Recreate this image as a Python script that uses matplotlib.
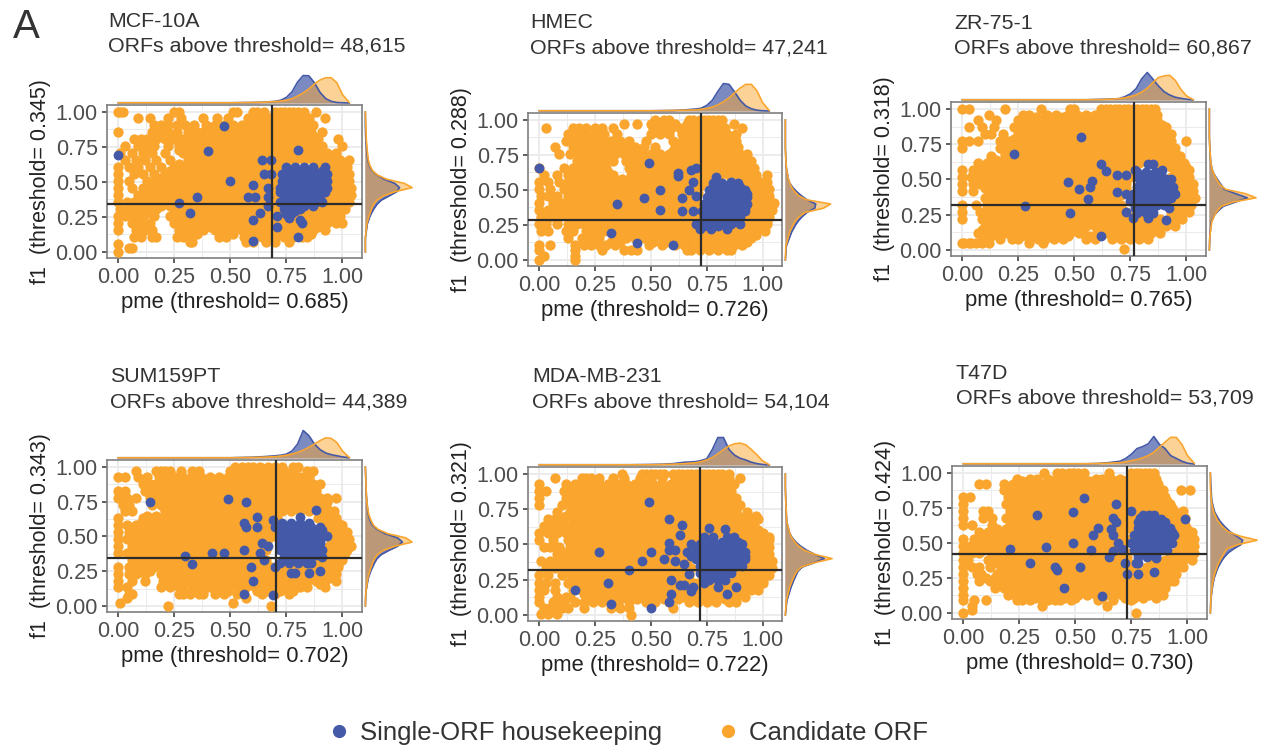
import matplotlib
matplotlib.use("Agg")
import matplotlib.pyplot as plt
from matplotlib.lines import Line2D

plt.rcParams['font.family'] = ['Liberation Sans', 'DejaVu Sans']

W, H = 1265, 750
ORANGE, BLUE = '#FAA62E', '#4459A8'

NAMES = ['MCF-10A', 'HMEC', 'ZR-75-1', 'SUM159PT', 'MDA-MB-231', 'T47D']
ORF_COUNTS = ['48,615', '47,241', '60,867', '44,389', '54,104', '53,709']
PME_THR = [0.685, 0.726, 0.765, 0.702, 0.722, 0.730]
F1_THR = [0.345, 0.288, 0.318, 0.343, 0.321, 0.424]
TICKS = [0, 0.25, 0.5, 0.75, 1.0]
TICK_LABELS = ['0.00', '0.25', '0.50', '0.75', '1.00']
LEGEND_LABELS = ['Single-ORF housekeeping', 'Candidate ORF']

# Candidate ORF points in percent, as (f1, [pme, ...]) rows
CAND_1 = [(100,[0,1,2,25,27,51,53,60,62,65,70,72,74,76,78,80,83,88]),
(96,[9,14,22,28,38,44,49,58,61,64,67,70,73,76,79,82,85,92]),
(91,[16,19,22,26,30,34,39,43,47,51,55,59,63,67,71,75,79,83,87]),
(86,[0,15,18,22,26,31,35,38,42,46,50,54,58,62,66,70,74,78,82,86,91]),
(81,[7,10,13,17,21,25,29,33,37,41,45,49,53,57,61,65,69,73,77,81,85,89,98]),
(76,[3,9,13,16,22,27,31,35,39,43,47,51,55,59,63,67,71,75,79,83,87,91,100]),
(71,[1,6,11,15,21,29,33,37,41,45,49,53,57,61,65,69,73,77,81,85,89,93,97]),
(66,[3,8,12,17,23,31,35,39,43,47,51,55,59,63,67,71,75,79,83,87,91,95,99,103]),
(61,[0,5,9,14,19,25,29,33,37,41,45,49,53,57,61,65,69,73,90,94,98,102]),
(56,[0,7,11,16,21,27,31,35,39,43,47,51,55,59,63,67,71,95,99,103]),
(51,[0,5,13,17,21,25,29,33,37,41,45,49,53,57,61,65,69,95,99,103]),
(46,[0,6,11,15,19,23,27,31,35,39,43,47,51,55,59,63,67,71,95,99,104]),
(41,[0,9,13,17,21,25,29,33,37,41,45,49,53,57,61,65,69,93,97,101,104]),
(36,[0,4,7,11,15,19,23,27,31,35,39,43,47,51,55,59,63,67,71,92,96,100,103]),
(31,[1,5,9,13,17,25,29,33,37,41,45,49,53,57,61,65,69,85,89,93,97,101]),
(26,[0,3,7,11,16,23,27,31,35,39,43,47,51,55,59,63,67,71,79,83,87,91,95,99]),
(21,[0,6,10,14,25,29,33,37,41,45,49,53,57,61,65,69,73,77,81,85,89,93,97,100]),
(16,[0,8,12,15,27,31,34,38,43,47,51,55,59,63,67,71,75,79,83,87,92]),
(11,[7,10,15,17,26,29,31,33,45,48,56,59,64,66,70,74,78,82,84]),
(7,[32,33,57,60,66,70,76]),(6,[0]),(3,[5,6]),(0,[0])]

CAND_2 = [(100,[52,56,58,67,69,72,74,76,78,80,82]),
(97,[38,44,50,53,57,61,66,69,72,75,78,81,87]),
(94,[3,15,18,21,25,28,33,51,55,59,63,67,71,75,79,83,91]),
(90,[13,17,21,25,29,35,50,54,58,64,68,72,76,80,84,88]),
(85,[12,16,20,24,28,32,36,40,48,60,64,68,72,76,80,84,88]),
(81,[7,15,19,23,27,31,35,39,43,47,52,61,65,69,73,77,81,85,89]),
(76,[9,14,18,22,26,30,34,38,42,46,50,54,58,62,66,70,74,78,82,86,90,93]),
(71,[17,21,25,29,33,39,43,47,51,55,59,63,67,71,75,79,83,87,91,95]),
(66,[0,11,15,19,23,27,30,40,44,48,52,56,60,64,68,72,76,80,84,88,92,96]),
(61,[2,8,13,17,21,25,29,33,41,45,49,53,57,61,65,69,73,77,81,85,89,93,97,102]),
(56,[0,4,9,13,19,23,27,31,35,39,43,47,51,55,59,63,67,71,75,91,95,99,102]),
(51,[0,5,11,15,18,22,26,30,34,38,42,46,50,54,58,62,66,70,93,97,101,103]),
(46,[1,4,8,13,17,21,25,29,33,37,41,45,49,53,57,61,65,69,95,99,103]),
(41,[0,6,10,14,18,22,26,30,34,38,42,46,50,54,58,62,66,70,95,99,103,105]),
(36,[0,4,8,12,16,20,24,28,32,36,40,44,48,52,56,60,64,68,93,97,101,104]),
(31,[1,5,9,14,18,22,26,30,34,38,42,46,50,54,58,62,66,70,95,99,103]),
(26,[0,3,8,13,17,20,28,32,37,41,45,49,53,57,61,65,69,92,96,100,102]),
(21,[1,4,12,15,21,25,29,33,37,41,45,49,53,57,61,65,69,73,77,81,85,89,93,97,101]),
(16,[13,19,23,27,35,39,43,47,51,55,59,63,67,71,75,79,83,87,91,95]),
(11,[0,5,16,20,23,27,30,34,49,55,61,65,71,75,79,83,87,91]),
(7,[0,16,28,38,41,44,66,68,72,76,80,84,86]),(3,[2,16]),(0,[0,16])]

CAND_3 = [(100,[0,3,19,35,48,50,62,64,66,68,70,72,74,76,78,80,82,84,86]),
(96,[12,27,30,38,42,47,51,55,59,63,67,71,75,79,83,87]),
(92,[7,15,25,29,33,37,41,45,49,53,57,61,65,69,73,77,81,85,87]),
(87,[3,9,14,23,27,31,35,39,43,47,51,55,59,63,67,71,75,79,83,87,91]),
(82,[10,13,18,25,29,33,37,41,45,49,53,57,61,65,69,73,77,81,85,89,93]),
(77,[0,3,7,17,21,27,31,35,39,43,47,51,55,59,63,67,71,75,79,83,87,91,93,100]),
(72,[0,17,21,25,29,33,37,41,45,49,53,57,61,65,69,73,77,81,85,89,93,95]),
(67,[13,19,23,27,31,35,39,43,47,51,55,59,63,67,71,75,79,83,87,91,95,97]),
(62,[7,11,15,19,23,27,31,35,39,43,47,51,55,59,63,67,71,75,79,83,87,91,95,99]),
(57,[0,5,9,13,17,21,25,29,33,37,41,45,49,53,57,61,65,69,73,77,95,99,101]),
(52,[0,4,9,11,15,19,23,27,31,35,39,43,47,51,55,59,63,67,71,75,93,97,101]),
(47,[0,5,8,13,17,21,25,29,33,37,41,45,49,53,57,61,65,69,73,95,99,103]),
(42,[0,5,12,15,19,23,27,31,35,39,43,47,51,55,59,63,67,71,95,99,103]),
(37,[10,13,17,21,25,29,33,37,41,45,49,53,57,61,65,69,96,100,104]),
(32,[0,6,11,15,19,23,27,31,35,39,43,47,51,55,59,63,67,71,95,99,102]),
(27,[0,8,10,13,17,21,25,29,33,37,41,45,49,53,57,61,65,69,73,93,97,101]),
(22,[0,9,12,16,20,24,28,32,36,40,44,48,52,56,60,64,68,72,76,80,84,88,92,96,98]),
(17,[10,14,18,22,27,31,35,39,43,47,51,55,59,63,67,71,75,79,83,87,91,95]),
(12,[7,11,15,20,24,28,32,36,40,44,48,52,60,64,68,72,76,80,84,88]),
(8,[17,22,25,30,34,37,41,45,55,59,67,71,75,79,83]),
(5,[0,1,3,4,6,9,12,30,36]),(1,[72])]

CAND_4 = [(100,[52,55,58,60,63,67,70,73,78,80]),
(97,[8,17,19,21,23,28,33,36,50,54,58,62,66,70,74,78,84,87]),
(93,[0,3,9,13,18,22,25,29,33,37,41,45,49,53,57,61,65,69,73,77,81,85]),
(88,[11,14,17,20,24,27,31,35,39,43,47,51,55,59,63,67,71,75,79,83,87,90]),
(83,[0,3,12,16,20,24,28,32,36,40,44,48,52,56,60,64,68,72,76,80,84,88]),
(78,[0,4,8,14,18,22,26,30,34,38,42,46,50,54,58,62,66,70,74,78,82,86,90,93,97]),
(73,[2,5,15,19,23,27,31,35,39,43,47,51,55,59,63,67,71,75,79,83,87,91]),
(68,[3,6,21,25,29,33,37,41,45,49,53,57,61,65,69,73,77,81,85,89,93,96]),
(63,[0,11,15,19,23,27,31,35,39,43,47,51,55,59,63,67,71,89,93,97]),
(58,[0,4,8,12,16,20,24,28,32,36,40,44,48,52,56,60,64,68,92,96,100]),
(53,[0,5,9,13,17,21,25,29,33,37,41,45,49,53,57,61,65,69,94,98,102]),
(48,[0,4,7,11,15,19,23,27,31,35,39,43,47,51,55,59,63,67,95,99,103]),
(43,[0,6,10,14,18,22,26,30,34,38,42,46,50,54,58,62,66,94,98,102,104]),
(38,[0,4,8,12,16,20,24,28,32,36,40,44,48,52,56,60,64,93,97,101]),
(33,[6,10,14,18,22,26,30,34,38,42,46,50,54,58,62,66,90,94,98,100]),
(28,[0,5,8,12,16,20,24,28,32,36,40,44,48,52,56,60,64,68,72,76,80,84,88,92,96,98]),
(23,[0,5,8,12,19,23,27,31,35,39,43,47,51,55,59,63,67,71,75,79,83,87,91,95,97]),
(18,[0,6,12,20,24,28,32,36,40,44,48,52,56,60,64,68,72,76,80,84,88,92,97]),
(14,[0,4,19,23,27,33,37,41,45,49,53,57,61,65,69,73,77,81,84,92]),
(9,[5,6,27,29,32,36,38,43,47,53,56,64,70,76]),(6,[4,57]),(2,[1,51]),(0,[22,68])]

CAND_5 = [(100,[37,46,48,50,52,54,56,60,62,64,66,68,70,72,74,76,78,80,82,85]),
(97,[7,19,21,23,27,33,38,45,50,55,61,65,69,73,77,81,85,90]),
(93,[0,12,16,19,23,27,31,35,39,43,47,51,55,59,63,67,71,75,79,83,87]),
(88,[0,3,11,15,19,23,27,31,35,39,43,47,51,55,59,63,67,71,75,79,83,86]),
(83,[0,12,16,20,24,28,32,36,40,44,48,52,56,60,64,68,72,76,80,84,88]),
(78,[0,10,14,18,22,26,30,34,38,42,46,50,54,58,62,66,70,74,78,82,86,90]),
(73,[8,14,18,22,26,30,34,38,42,46,50,54,58,62,66,70,74,78,82,86,88,93]),
(68,[4,7,10,15,19,23,27,31,35,39,43,47,51,55,59,63,67,71,75,79,83,87,91,95,98]),
(63,[2,5,9,13,17,21,25,29,33,37,41,45,49,53,57,61,65,69,73,77,81,85,89,93,96]),
(58,[0,4,8,12,16,20,24,28,32,36,40,44,48,52,56,60,64,68,72,76,80,84,88,92,96,100]),
(53,[0,6,13,17,21,25,29,33,37,41,45,49,53,57,61,65,69,90,94,98,101,103]),
(48,[2,5,9,14,18,22,26,30,34,38,42,46,50,54,58,62,66,92,96,100,103]),
(43,[8,12,16,20,24,28,32,36,40,44,48,52,56,60,64,92,96,100,103]),
(38,[1,5,9,14,18,22,26,30,34,38,42,46,50,54,58,62,66,94,98,102,104]),
(33,[3,7,12,16,20,24,28,32,36,40,44,48,52,56,60,64,68,92,96,100,104]),
(28,[0,4,10,15,19,23,27,31,35,39,43,47,51,55,59,63,67,88,92,96,100,103]),
(23,[0,3,7,13,17,21,25,29,33,37,41,45,49,53,57,61,65,69,71,86,90,94,98,100]),
(18,[0,2,7,15,19,23,27,31,35,39,43,47,51,55,59,63,67,71,75,79,83,87,91,95,98]),
(13,[0,8,12,14,22,26,30,34,38,42,46,50,54,60,64,68,72,76,80,84,88,92]),
(9,[0,6,9,11,16,20,24,28,32,35,40,48,52,58,67,71,75,79,85,88]),
(5,[2,5,8,10,13,20,32,36,40,60]),(1,[1,4,8]),(0,[41])]

CAND_6 = [(100,[36,42,44,47,49,51,54,65,75,77,79,81,83,85]),
(96,[24,30,33,38,42,46,50,54,59,62,66,70,74,78,82,86]),
(92,[7,10,18,22,25,28,31,35,39,43,47,51,55,59,63,67,71,75,79,83,87]),
(88,[18,21,25,29,33,37,41,45,49,53,57,61,65,69,73,77,81,85,89,97,101]),
(83,[0,3,20,23,27,31,35,39,43,47,51,55,59,63,67,71,75,79,83,87,90]),
(78,[0,19,25,29,33,37,41,45,49,53,57,61,65,69,73,77,81,85,89,92]),
(73,[0,9,11,21,25,29,35,39,43,47,51,55,59,63,67,71,75,79,83,87,91,94,98]),
(68,[0,9,13,19,23,27,31,37,41,45,49,53,57,61,65,69,73,77,92,96,99]),
(63,[0,4,13,21,25,29,33,37,41,45,49,53,57,61,65,69,73,95,99]),
(58,[7,11,15,19,23,27,31,35,39,43,47,51,55,59,63,67,71,95,99,102]),
(53,[0,5,9,13,17,21,25,29,33,37,41,45,49,53,57,61,65,69,73,96,100,103]),
(48,[0,3,7,11,15,19,23,27,31,35,39,43,47,51,55,59,63,67,71,96,100,103]),
(43,[0,4,7,13,17,21,25,29,33,37,41,45,49,53,57,61,65,69,73,94,98,102,103]),
(38,[0,2,11,15,19,23,27,31,35,39,43,47,51,55,59,63,67,71,90,94,98,102]),
(33,[0,4,7,12,17,21,25,29,33,37,41,45,49,53,57,61,65,69,73,77,82,86,90,94,98]),
(28,[0,6,8,15,19,23,27,31,35,39,43,47,51,55,59,63,67,71,75,79,83,87,91,95]),
(23,[0,7,12,16,20,24,28,32,36,40,44,48,52,56,60,64,68,72,76,80,84,88,92,94]),
(18,[0,14,18,22,26,30,34,38,42,46,50,54,58,62,66,70,74,78,82,86,90]),
(13,[0,20,23,27,31,35,39,43,47,51,55,59,63,67,71,75,79,83,87,89]),
(9,[0,5,10,24,26,30,35,38,41,43,48,60,67,75]),(5,[4,35,64]),(2,[4]),(0,[0,77])]

# Further candidate points inside the solid part of each cloud
CORE_1 = [(93,[61,65,69,73,77,81]),(88,[59,63,67,71,75,79,83]),
(83,[43,47,51,55,59,63,67,71,75,79,83,87]),(78,[39,43,47,51,55,59,63,67,71,75,79,83,87]),
(73,[27,31,35,39,43,47,51,55,59,63,67,71,75,79,83,87,91]),
(68,[33,37,41,45,49,53,57,61,65,69,73,77,81,85,89,93,97]),
(63,[27,31,35,39,43,47,51,55,59,63,67,71,75,91,95,99]),
(58,[23,29,33,37,41,45,49,53,57,61,65,69,73,93,97,101]),
(53,[19,23,27,31,35,39,43,47,51,55,59,63,67,71,95,99,102]),
(48,[15,19,23,27,31,35,39,43,47,51,55,59,63,67,71,93,97,101]),
(43,[15,19,23,27,31,35,39,43,47,51,55,59,63,67,71,95,99,102]),
(38,[13,17,21,25,29,33,37,41,45,49,53,57,61,65,69,73,94,98,102]),
(33,[11,15,19,23,27,31,35,39,43,47,51,55,59,63,67,71,90,94,98]),
(28,[13,25,29,33,37,41,45,49,53,57,61,65,69,73,81,85,89,93,97]),
(23,[27,31,35,39,43,47,51,55,59,63,67,71,75,79,83,87,91,95]),
(18,[29,33,37,41,45,49,53,57,61,65,69,73,77,81,85,89]),
(13,[28,31,35,47,51,58,62,66,70,74,78,82,86])]
CORE_2 = [(88,[66,70,74,78,82,86]),(83,[62,66,70,74,78,82,86]),
(78,[16,20,24,28,32,36,40,44,60,64,68,72,76,80,84,88]),
(73,[19,23,27,41,45,49,53,57,61,65,69,73,77,81,85,89,93]),
(68,[17,21,25,42,46,50,54,58,62,66,70,74,78,82,86,90,94]),
(63,[15,19,23,27,31,43,47,51,55,59,63,67,71,75,79,83,87,91,95]),
(58,[15,21,25,29,33,37,41,45,49,53,57,61,65,69,73,77,93,97]),
(53,[17,20,24,28,32,36,40,44,48,52,56,60,64,68,72,95,99]),
(48,[15,19,23,27,31,35,39,43,47,51,55,59,63,67,71,93,97,101]),
(43,[16,20,24,28,32,36,40,44,48,52,56,60,64,68,93,97,101]),
(38,[10,14,18,22,26,30,34,38,42,46,50,54,58,62,66,70,97,101]),
(33,[11,16,20,24,28,32,36,40,44,48,52,56,60,64,68,93,97,101]),
(28,[16,20,24,30,34,39,43,47,51,55,59,63,67,71,94,98,102]),
(23,[23,27,31,35,39,43,47,51,55,59,63,67,71,75,79,83,87,91,95,99]),
(18,[25,37,41,45,49,53,57,61,65,69,73,77,81,85,89,93,97]),
(13,[25,32,36,51,57,63,67,73,77,81,85,89,93])]
CORE_3 = [(94,[29,33,37,41,45,49,53,57,61,65,69,73,77,81,85]),
(89,[25,29,33,37,41,45,49,53,57,61,65,69,73,77,81,85,89]),
(84,[27,31,35,39,43,47,51,55,59,63,67,71,75,79,83,87,91]),
(79,[23,29,33,37,41,45,49,53,57,61,65,69,73,77,81,85,89]),
(74,[19,23,29,33,37,41,45,49,53,57,61,65,69,73,77,81,85,89,93]),
(69,[19,23,27,31,35,39,43,47,51,55,59,63,67,71,75,79,83,87,91,95]),
(64,[15,19,23,27,31,35,39,43,47,51,55,59,63,67,71,75,79,83,87,91,95,97]),
(59,[11,15,19,23,27,31,35,39,43,47,51,55,59,63,67,71,75,93,97,100]),
(54,[7,11,15,19,23,27,31,35,39,43,47,51,55,59,63,67,71,75,95,99]),
(49,[7,11,15,19,23,27,31,35,39,43,47,51,55,59,63,67,71,93,97,101]),
(44,[10,14,17,21,25,29,33,37,41,45,49,53,57,61,65,69,73,97,101]),
(39,[12,15,19,23,27,31,35,39,43,47,51,55,59,63,67,71,94,98,102]),
(34,[13,17,21,25,29,33,37,41,45,49,53,57,61,65,69,97,101]),
(29,[11,15,19,23,27,31,35,39,43,47,51,55,59,63,67,71,95,99]),
(24,[14,18,22,26,30,34,38,42,46,50,54,58,62,66,70,74,94,97]),
(19,[12,16,20,24,29,33,37,41,45,49,53,57,61,65,69,73,77,81,85,89,93]),
(14,[9,13,17,22,26,30,34,38,42,46,50,54,62,66,70,74,78,82,86]),
(10,[9,13,22,26,32,39,43,47,57,69,73,77,81])]
CORE_4 = [(90,[22,26,33,37,41,45,49,53,57,61,65,69,73,77,81,85]),
(85,[14,18,22,26,30,34,38,42,46,50,54,58,62,66,70,74,78,82,86]),
(80,[14,18,22,28,32,36,40,44,48,52,56,60,64,68,72,76,80,84,88]),
(75,[17,21,25,29,33,37,41,45,49,53,57,61,65,69,73,77,81,85,89,93]),
(70,[21,25,29,33,37,41,45,49,53,57,61,65,69,73,77,81,85,89,93]),
(65,[13,17,21,25,29,33,37,41,45,49,53,57,61,65,69,91,95]),
(60,[10,14,18,22,26,30,34,38,42,46,50,54,58,62,66,94,98]),
(55,[7,11,15,19,23,27,31,35,39,43,47,51,55,59,63,67,96,100]),
(50,[6,9,13,17,21,25,29,33,37,41,45,49,53,57,61,65,69,97,101]),
(45,[8,12,16,20,24,28,32,36,40,44,48,52,56,60,64,96,100,102]),
(40,[6,10,14,18,22,26,30,34,38,42,46,50,54,58,62,66,95,99,102]),
(35,[8,12,16,20,24,28,32,36,40,44,48,52,56,60,64,92,96,100]),
(30,[10,14,18,22,26,30,34,38,42,46,50,54,58,62,66,90,94,98]),
(25,[10,14,21,25,29,33,37,41,45,49,53,57,61,65,69,73,77,81,85,89,93,96]),
(20,[22,26,30,34,38,42,46,50,54,58,62,66,70,74,78,82,86,90,94]),
(16,[21,25,29,35,39,43,47,51,55,59,63,67,71,75,79,83,90]),
(11,[29,34,38,45,49,55,62,67,72,78])]
CORE_5 = [(90,[13,17,21,25,29,33,37,41,45,49,53,57,61,65,69,73,77,81,85]),
(85,[14,18,22,26,30,34,38,42,46,50,54,58,62,66,70,74,78,82,86]),
(80,[12,16,20,24,28,32,36,40,44,48,52,56,60,64,68,72,76,80,84,88]),
(75,[16,20,24,28,32,36,40,44,48,52,56,60,64,68,72,76,80,84,88]),
(70,[12,17,21,25,29,33,37,41,45,49,53,57,61,65,69,73,77,81,85,89,93,97]),
(65,[7,15,19,23,27,31,35,39,43,47,51,55,59,63,67,71,75,79,83,87,91,95]),
(60,[6,14,18,22,26,30,34,38,42,46,50,54,58,62,66,70,74,78,82,86,90,94,98]),
(55,[15,19,23,27,31,35,39,43,47,51,55,59,63,67,71,92,96,100,103]),
(50,[16,20,24,28,32,36,40,44,48,52,56,60,64,94,98,102]),
(45,[10,14,18,22,26,30,34,38,42,46,50,54,58,62,94,98,102]),
(40,[12,16,20,24,28,32,36,40,44,48,52,56,60,64,96,100,103]),
(35,[10,14,18,22,26,30,34,38,42,46,50,54,58,62,66,94,98,102]),
(30,[13,17,21,25,29,33,37,41,45,49,53,57,61,65,90,94,98,102]),
(25,[15,19,23,27,31,35,39,43,47,51,55,59,63,67,88,92,96,100]),
(20,[17,21,25,29,33,37,41,45,49,53,57,61,65,69,73,77,81,85,89,93,97]),
(15,[20,24,28,32,36,40,44,48,52,56,62,66,70,74,78,82,86,90]),
(11,[24,28,32,36,44,50,56,62,69,73,77,83])]
CORE_6 = [(94,[26,33,40,44,48,52,56,61,64,68,72,76,80,84]),
(90,[27,30,33,37,41,45,49,53,57,61,65,69,73,77,81,85]),
(85,[25,29,33,37,41,45,49,53,57,61,65,69,73,77,81,85,89]),
(80,[22,27,31,35,39,43,47,51,55,59,63,67,71,75,79,83,87,91]),
(75,[23,27,31,37,41,45,49,53,57,61,65,69,73,77,81,85,89,93]),
(70,[21,25,29,33,39,43,47,51,55,59,63,67,71,75,79,90,94]),
(65,[23,27,31,35,39,43,47,51,55,59,63,67,71,75,94,97]),
(60,[15,19,23,27,31,35,39,43,47,51,55,59,63,67,71,75,97,100]),
(55,[11,15,19,23,27,31,35,39,43,47,51,55,59,63,67,71,97,101]),
(50,[11,15,19,23,27,31,35,39,43,47,51,55,59,63,67,71,98,102]),
(45,[9,15,19,23,27,31,35,39,43,47,51,55,59,63,67,71,96,100]),
(40,[13,17,21,25,29,33,37,41,45,49,53,57,61,65,69,73,92,96,100]),
(35,[13,19,23,27,31,35,39,43,47,51,55,59,63,67,71,75,84,88,92,96]),
(30,[17,21,25,29,33,37,41,45,49,53,57,61,65,69,73,77,81,85,89,93]),
(25,[10,14,18,22,26,30,34,38,42,46,50,54,58,62,66,70,74,78,82,86,90]),
(20,[16,20,24,28,32,36,40,44,48,52,56,60,64,68,72,76,80,84,88]),
(15,[22,25,29,33,37,41,45,49,53,57,61,65,69,73,77,81,85,88]),
(11,[25,28,32,37,40,45,50,62,72,76,80,86])]

# Single-ORF housekeeping points in percent, same row form
HK_1 = [(90,[47]),(73,[80]),(72,[40]),(69,[0]),(66,[64,68]),(61,[75,79,83,87,92]),(58,[75,79,83,87,91]),
(56,[65,68,73,77,81,85,89,93]),(53,[75,79,83,87,91]),(51,[50,73,77,81,85,89,93]),(48,[60,74,78,82,86,90]),
(46,[67,72,76,80,84,88,93]),(43,[72,76,80,84,88,92]),(41,[74,78,82,86,90]),(39,[35,58,61,67]),
(38,[74,78,82,86,90]),(36,[72,76,80,84,88,91]),(35,[27]),(33,[67,75,79,83,87]),(31,[74,77,81]),(29,[76,79]),
(28,[32,63]),(27,[75,77]),(26,[71]),(24,[76]),(23,[60,81]),(21,[82]),(18,[71]),(11,[80]),(8,[60])]
HK_2 = [(69,[49]),(66,[0,70]),(64,[68]),(62,[62]),(60,[62]),(59,[79]),(56,[69,86]),(55,[78,82,86,89]),
(52,[78,82,86,90]),(50,[54,67,76,80,84,88,92]),(47,[77,81,85,89,93]),(46,[70]),(45,[75,79,83,87,91,93]),(44,[47,64]),
(42,[76,80,84,88,92]),(40,[35,74,78,82,86,90,93]),(37,[76,80,84,88,92]),(36,[54]),(35,[64,69,73,76,80,84,88,92]),
(33,[76,80,84,88]),(31,[74,78,82,86,90]),(28,[76,80,84,88]),(26,[70,74,78,82,86,90]),(24,[74,80]),
(22,[72,77,84]),(19,[32]),(12,[44]),(11,[60])]
HK_3 = [(80,[53]),(68,[23]),(61,[62,83,85]),(57,[77,89]),(56,[64]),(55,[78,82,86]),(53,[69,73]),(52,[81,85,89]),
(50,[79,83,87,91,93]),(49,[58]),(48,[47]),(47,[80,84,88,92]),(45,[57,78,82,86,90,94]),(43,[52]),(42,[78,82,86,90,94]),(41,[69]),
(40,[73,76,80,84,88,92,95]),(37,[77,81,85,89,93]),(36,[56]),(35,[75,79,83,87,91]),(32,[79,83,87,90]),(31,[28]),(30,[77,81,85,92]),
(28,[80,84]),(27,[73]),(26,[48,78,82,85]),(23,[76,83]),(21,[91]),(10,[62])]
HK_4 = [(77,[49]),(75,[14,57]),(69,[88]),(64,[62,81]),(62,[69]),(60,[56,73,77,81,85]),(57,[57,62,70,90,74,78,82,86]),
(55,[72,76,80,84,88,91]),(52,[74,78,82,86,90]),(50,[72,76,80,84,88,93]),(47,[74,78,82,86,90]),(45,[64,72,76,80,84,88,90]),(43,[67]),
(42,[74,78,82,86,90]),(40,[56,72,76,80,84,88,91]),(38,[42,47,63]),(37,[76,80,84,88]),(36,[30]),(35,[74,78,82,86,91]),(33,[65,74,78,82,84]),
(31,[72,76,80,84,86]),(30,[33]),(28,[59,70]),(25,[90]),(24,[77,79,85]),(18,[60]),(9,[56]),(8,[69])]
HK_5 = [(80,[49]),(68,[58]),(64,[64]),(62,[76]),(61,[83]),(57,[63]),(55,[74,78,84,87]),(52,[78,82,86,89]),(51,[58]),
(50,[68,72,76,80,84,88,91]),(47,[70,74,78,82,86,90]),(46,[58,61]),(45,[27,50,66,70,74,78,82,86,90,92]),(42,[68,72,76,80,84,88,92]),
(40,[56,70,74,78,82,86,90,92]),(38,[46,61]),(37,[74,78,82,86,90]),(36,[65]),(35,[72,76,80,84,88,91]),(32,[40,74,78,82,86]),
(30,[72,76,80,84,86]),(29,[67]),(27,[74,78,82]),(25,[59,76,80,83]),(23,[31,74]),(21,[63,65]),(20,[69,80,88]),(18,[16]),(17,[68]),
(15,[59,84]),(9,[58]),(8,[32]),(5,[50])]
HK_6 = [(82,[54]),(78,[68]),(73,[75]),(72,[49]),(70,[33,80,83,85]),(68,[67,79]),(67,[99,80,84,88]),(65,[68,78,82,86,90]),(62,[80,84,88]),
(61,[60,78,82,86,90,92]),(60,[66]),(58,[78,82,86,90,93]),(56,[58,67,76,80,84,88,92,94]),(53,[78,82,86,90]),(50,[49,69,75,79,83,87,91,93]),
(47,[37,78,82,86,90]),(46,[21,71]),(45,[57,76,80,84,88,91]),(44,[67]),(42,[78,82,86]),(40,[65,78,82,86]),(39,[86]),(36,[30,72,77,78]),(33,[41,52]),
(31,[42]),(29,[85]),(28,[73,78]),(18,[45]),(12,[62])]

# Marginal densities, as share of the tallest curve of the figure
TOP_X = [0,.1,.2,.3,.4,.5,.55,.6,.65,.7,.725,.75,.775,.8,.825,.85,.875,.9,.925,.95,.975,1.0,1.03]
TOP_HK_1 = [.01,.01,.01,.01,.01,.01,.015,.02,.03,.06,.1,.2,.4,.75,.98,.97,.72,.38,.16,.06,.02,.01,0]
TOP_CA_1 = [.01,.01,.01,.01,.01,.01,.015,.02,.03,.05,.07,.1,.15,.25,.36,.5,.68,.82,.9,.9,.72,.3,.02]
TOP_HK_2 = [.01,.01,.01,.01,.01,.01,.015,.02,.04,.07,.1,.2,.38,.7,.98,.95,.68,.38,.18,.08,.03,.01,0]
TOP_CA_2 = [.01,.01,.01,.01,.01,.01,.015,.02,.03,.04,.06,.09,.14,.22,.33,.47,.65,.82,.95,.95,.72,.3,.02]
TOP_HK_3 = [.01,.01,.01,.01,.01,.01,.01,.02,.03,.05,.12,.22,.4,.75,.98,.75,.5,.3,.18,.1,.06,.03,0]
TOP_CA_3 = [.01,.01,.01,.01,.01,.01,.01,.015,.025,.05,.08,.12,.18,.28,.42,.62,.8,.86,.88,.7,.38,.15,.01]
TOP_HK_4 = [.01,.01,.01,.01,.01,.01,.02,.03,.05,.08,.1,.14,.25,.5,.98,.8,.5,.3,.18,.12,.08,.04,.01]
TOP_CA_4 = [.01,.01,.01,.01,.01,.01,.015,.02,.03,.05,.07,.1,.14,.2,.28,.38,.5,.62,.72,.7,.55,.25,.02]
TOP_HK_5 = [.01,.01,.01,.01,.01,.02,.03,.05,.1,.12,.16,.22,.55,.98,.98,.55,.35,.24,.18,.1,.05,.02,0]
TOP_CA_5 = [.01,.01,.01,.01,.01,.01,.02,.03,.05,.08,.12,.18,.26,.4,.55,.68,.76,.78,.72,.55,.36,.15,.01]
TOP_HK_6 = [.01,.01,.01,.01,.01,.01,.01,.02,.05,.1,.2,.35,.55,.62,.72,.98,.7,.55,.3,.2,.1,.03,0]
TOP_CA_6 = [.01,.01,.01,.01,.01,.01,.01,.02,.03,.05,.08,.12,.16,.22,.3,.42,.6,.78,.95,.95,.7,.3,.03]

SIDE_Y = [0,.1,.2,.25,.28,.31,.34,.37,.40,.43,.46,.49,.52,.55,.58,.62,.66,.72,.8,.9,1]
SIDE_HK_1 = [.01,.01,.05,.10,.14,.19,.25,.34,.50,.66,.72,.62,.40,.25,.15,.09,.06,.04,.02,.01,.01]
SIDE_CA_1 = [.01,.01,.04,.08,.11,.14,.18,.25,.38,.62,.98,.82,.45,.26,.16,.10,.07,.05,.03,.02,.01]
SIDE_HK_2 = [.01,.03,.14,.22,.28,.36,.46,.62,.64,.46,.34,.24,.16,.1,.07,.05,.03,.02,.01,.01,.01]
SIDE_CA_2 = [.01,.02,.10,.17,.22,.3,.42,.8,.95,.45,.28,.2,.14,.1,.07,.05,.03,.02,.01,.01,.01]
SIDE_HK_3 = [.01,.02,.05,.12,.2,.3,.55,.8,.55,.32,.26,.2,.14,.09,.06,.04,.03,.02,.01,.01,.01]
SIDE_CA_3 = [.01,.02,.06,.12,.18,.26,.5,.98,.75,.35,.24,.18,.13,.09,.06,.04,.03,.02,.01,.01,.01]
SIDE_HK_4 = [.01,.02,.07,.12,.16,.2,.25,.34,.5,.68,.78,.68,.42,.26,.16,.1,.07,.05,.03,.02,.01]
SIDE_CA_4 = [.01,.02,.06,.1,.13,.16,.2,.26,.38,.62,.98,.85,.48,.28,.18,.12,.08,.05,.03,.02,.01]
SIDE_HK_5 = [.01,.04,.13,.19,.23,.27,.36,.6,.82,.62,.45,.32,.22,.15,.1,.07,.04,.03,.02,.01,.01]
SIDE_CA_5 = [.01,.03,.1,.16,.2,.25,.34,.6,.98,.62,.4,.28,.2,.14,.1,.07,.04,.03,.02,.01,.01]
SIDE_HK_6 = [.01,.02,.06,.09,.12,.15,.19,.24,.3,.38,.5,.65,.68,.55,.42,.3,.2,.1,.04,.02,.01]
SIDE_CA_6 = [.01,.02,.05,.08,.1,.13,.16,.2,.25,.3,.36,.6,.98,.62,.38,.25,.16,.08,.03,.01,.01]

CANDS = [CAND_1 + CORE_1, CAND_2 + CORE_2, CAND_3 + CORE_3, CAND_4 + CORE_4, CAND_5 + CORE_5, CAND_6 + CORE_6]
HKS = [HK_1, HK_2, HK_3, HK_4, HK_5, HK_6]
TOP_HK = [TOP_HK_1, TOP_HK_2, TOP_HK_3, TOP_HK_4, TOP_HK_5, TOP_HK_6]
TOP_CA = [TOP_CA_1, TOP_CA_2, TOP_CA_3, TOP_CA_4, TOP_CA_5, TOP_CA_6]
SIDE_HK = [SIDE_HK_1, SIDE_HK_2, SIDE_HK_3, SIDE_HK_4, SIDE_HK_5, SIDE_HK_6]
SIDE_CA = [SIDE_CA_1, SIDE_CA_2, SIDE_CA_3, SIDE_CA_4, SIDE_CA_5, SIDE_CA_6]

# Layout in reference pixels: axes left, right, top, bottom; title x and first baseline
BOXES = [(107,362,105,258),(528,782,113,266),(951,1206,102,256),
         (107,362,460,612),(528,782,467,621),(952,1207,466,619)]
TITLES = [(108,27),(530,28),(954,29),(110,382),(532,382),(956,379)]
XLIM, YLIM = (-0.05, 1.087), (-0.043, 1.05)


def unpack(rows):
    xs, ys = [], []
    for y, row in rows:
        for x in row:
            xs.append(x / 100)
            ys.append(y / 100)
    return xs, ys


def px_axes(fig, l, r, t, b):
    return fig.add_axes([l / W, 1 - b / H, (r - l) / W, (b - t) / H])


fig = plt.figure(figsize=(W / 100, H / 100), dpi=100, facecolor='white')
fig.text(13 / W, 1 - 38 / H, 'A', fontsize=29, color='#333333', ha='left', va='baseline')

for i, (l, r, t, b) in enumerate(BOXES):
    ax = px_axes(fig, l, r, t, b)
    ax.set_xlim(XLIM)
    ax.set_ylim(YLIM)
    ax.set_xticks(TICKS, TICK_LABELS)
    ax.set_yticks(TICKS, TICK_LABELS)
    ax.set_xticks([0.125, 0.375, 0.625, 0.875], minor=True)
    ax.set_yticks([0.125, 0.375, 0.625, 0.875], minor=True)
    ax.grid(True, which='major', color='#ebebeb', lw=1.3, zorder=0)
    ax.grid(True, which='minor', color='#ebebeb', lw=0.7, zorder=0)
    ax.set_axisbelow(True)
    ax.tick_params(which='minor', length=0)
    ax.tick_params(which='major', length=3.5, width=1.1, color='#333333',
                   labelcolor='#4d4d4d', labelsize=15.5, pad=3)
    for s in ax.spines.values():
        s.set_color('#7f7f7f')
        s.set_linewidth(1.2)
    ax.scatter(*unpack(CANDS[i]), s=55, color=ORANGE, linewidths=0, zorder=3, clip_on=False)
    ax.scatter(*unpack(HKS[i]), s=50, color=BLUE, linewidths=0, zorder=4, clip_on=False)
    ax.axvline(PME_THR[i], color='#2b2b2b', lw=1.6, zorder=5)
    ax.axhline(F1_THR[i], color='#2b2b2b', lw=1.6, zorder=5)
    ax.set_xlabel(f'pme (threshold= {PME_THR[i]:.3f})', fontsize=15.8, color='#222222', labelpad=3)
    ax.set_ylabel(f'f1  (threshold= {F1_THR[i]:.3f})', fontsize=15.5, color='#222222', labelpad=3)

    top = px_axes(fig, l, r, t - 32, t)
    top.set_xlim(XLIM)
    top.set_ylim(-0.07, 1.07)
    top.axis('off')
    top.fill_between(TOP_X, TOP_HK[i], color=BLUE, alpha=0.7, lw=0)
    top.fill_between(TOP_X, TOP_CA[i], color=ORANGE, alpha=0.5, lw=0)
    top.plot(TOP_X, TOP_HK[i], color=BLUE, lw=1.2)
    top.plot(TOP_X, TOP_CA[i], color=ORANGE, lw=1.2)

    side = px_axes(fig, r, r + 52, t, b)
    side.set_ylim(YLIM)
    side.set_xlim(-0.06, 1.02)
    side.axis('off')
    side.fill_betweenx(SIDE_Y, SIDE_HK[i], color=BLUE, alpha=0.7, lw=0)
    side.fill_betweenx(SIDE_Y, SIDE_CA[i], color=ORANGE, alpha=0.5, lw=0)
    side.plot(SIDE_HK[i], SIDE_Y, color=BLUE, lw=1.2)
    side.plot(SIDE_CA[i], SIDE_Y, color=ORANGE, lw=1.2)

    tx, ty = TITLES[i]
    fig.text(tx / W, 1 - ty / H, NAMES[i], fontsize=15.4, color='#333333', va='baseline')
    fig.text(tx / W, 1 - (ty + 25) / H, f'ORFs above threshold= {ORF_COUNTS[i]}',
             fontsize=15.4, color='#333333', va='baseline')

handles = [Line2D([], [], ls='', marker='o', ms=9.5, color=c, mew=0) for c in (BLUE, ORANGE)]
fig.legend(handles, LEGEND_LABELS, ncol=2, loc='center', bbox_to_anchor=(627 / W, 1 - 733 / H),
           frameon=False, fontsize=18.5, labelcolor='#333333', handlelength=1.0,
           handletextpad=0.32, columnspacing=2.07)

fig.savefig('out.png', dpi=100, facecolor='white')
